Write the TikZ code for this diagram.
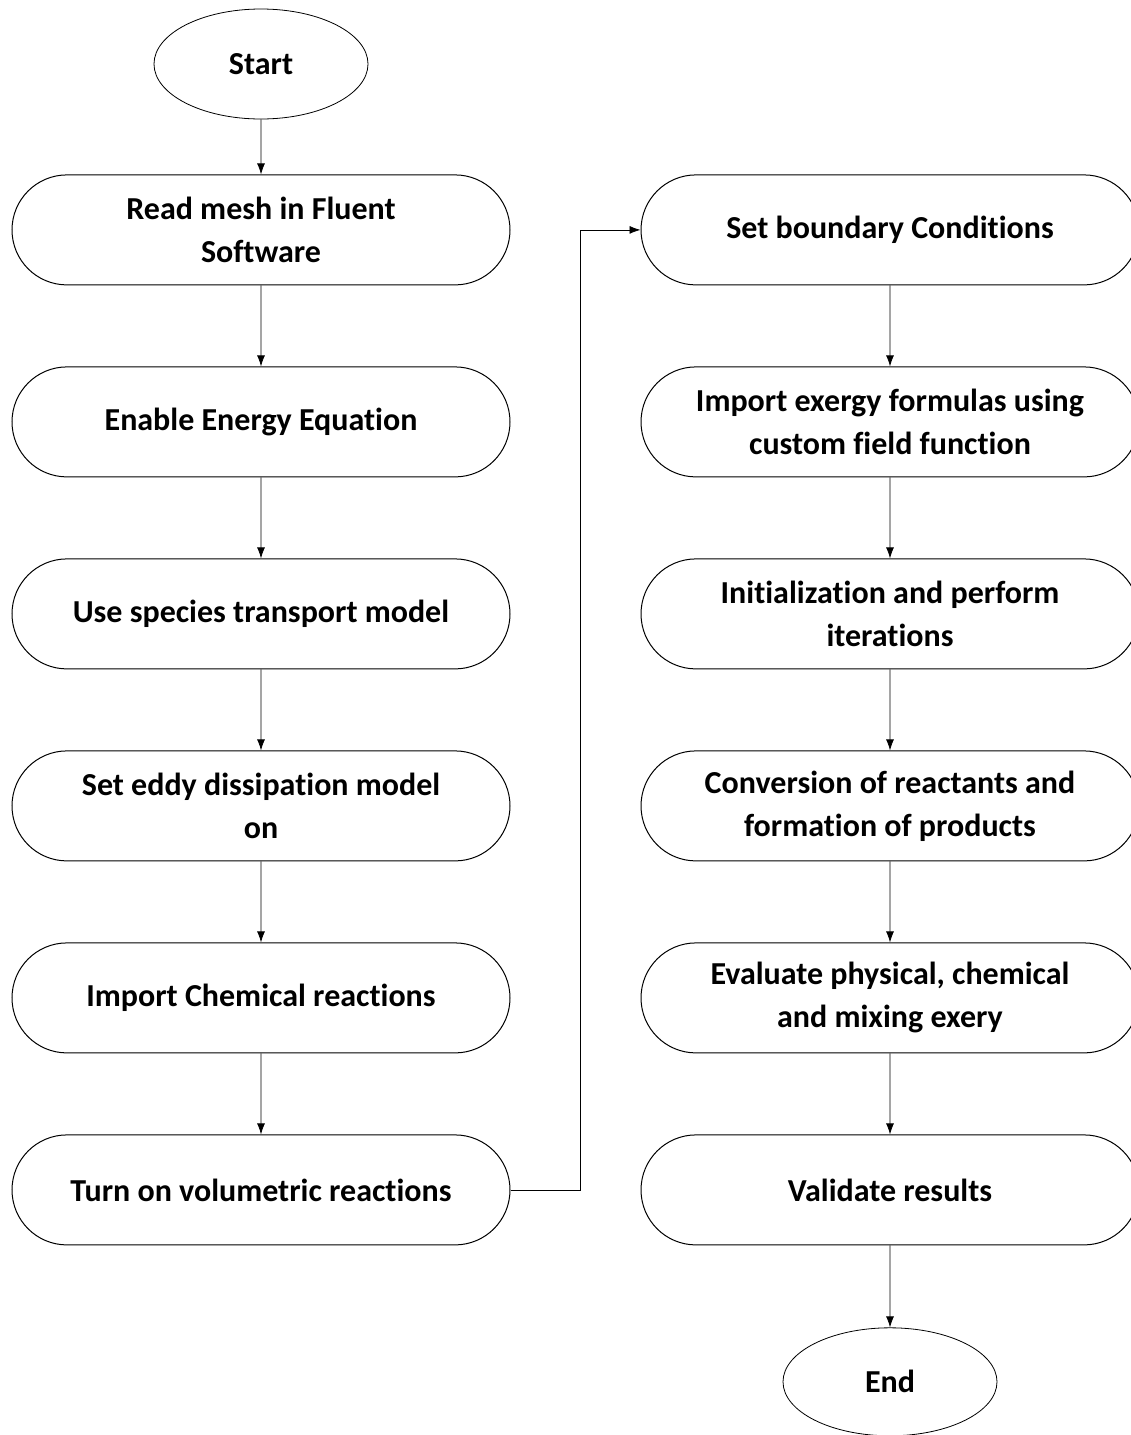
\documentclass[tikz,border=0pt]{standalone}
\usepackage{fontspec}
\setmainfont{Carlito}[Ligatures=NoCommon]
\usetikzlibrary{positioning,shapes.misc,shapes.geometric,arrows.meta}
\begin{document}
\begin{tikzpicture}[x=1pt,y=1pt,font=\fontsize{32}{43}\selectfont\bfseries,
        proc/.style={draw,rounded rectangle,line width=1pt,minimum width=498pt,
            minimum height=110pt,inner sep=0pt,align=center},
        term/.style={draw,ellipse,line width=0.8pt,minimum width=214pt,
            minimum height=110pt,inner sep=0pt},
        flow/.style={-{Latex[length=11pt,width=8pt]},line width=0.8pt}]
        \clip (0,0) rectangle (1131,-1435);
        %% left column
        \node[term] (start) at (261,-64) {Start};
        \node[proc,below=55pt of start] (read) {Read mesh in Fluent\\Software};
        \node[proc,below=81pt of read] (energy) {Enable Energy Equation};
        \node[proc,below=81pt of energy] (species) {Use species transport model};
        \node[proc,below=81pt of species] (eddy) {Set eddy dissipation model\\on};
        \node[proc,below=81pt of eddy] (chem) {Import Chemical reactions};
        \node[proc,below=81pt of chem] (vol) {Turn on volumetric reactions};
        %% right column
        \node[proc,right=130pt of read] (bound) {Set boundary Conditions};
        \node[proc,below=81pt of bound] (exergy) {Import exergy formulas using\\custom field function};
        \node[proc,below=81pt of exergy] (init) {Initialization and perform\\iterations};
        \node[proc,below=81pt of init] (conv) {Conversion of reactants and\\formation of products};
        \node[proc,below=81pt of conv] (eval) {Evaluate physical, chemical\\and mixing exery};
        \node[proc,below=81pt of eval] (valid) {Validate results};
        \node[term,minimum height=108pt,below=82pt of valid] (end) {End};
        %% connectors
        \draw[flow] (start) -- (read);
        \draw[flow] (read) -- (energy);
        \draw[flow] (energy) -- (species);
        \draw[flow] (species) -- (eddy);
        \draw[flow] (eddy) -- (chem);
        \draw[flow] (chem) -- (vol);
        \draw[flow] (vol.east) -- ++(70,0) |- (bound.west);
        \draw[flow] (bound) -- (exergy);
        \draw[flow] (exergy) -- (init);
        \draw[flow] (init) -- (conv);
        \draw[flow] (conv) -- (eval);
        \draw[flow] (eval) -- (valid);
        \draw[flow] (valid) -- (end);
    \end{tikzpicture}
\end{document}
